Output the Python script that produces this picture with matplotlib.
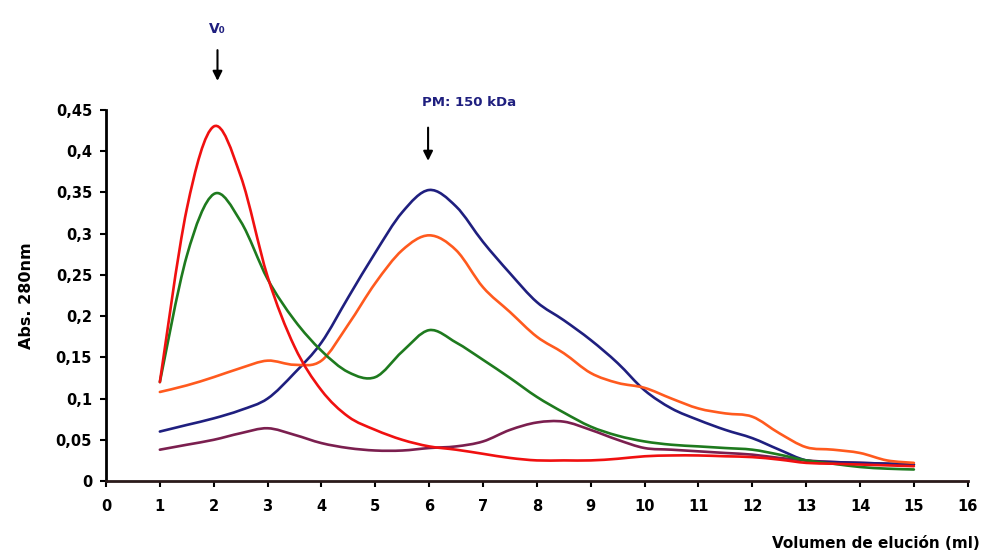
import matplotlib
matplotlib.use("Agg")
from matplotlib import pyplot as plt
from matplotlib.path import Path
from matplotlib.patches import PathPatch
from matplotlib.ticker import FuncFormatter, MultipleLocator

# elution volume (ml), sampled every 0.5 ml
vol = [1, 1.5, 2, 2.5, 3, 3.5, 4, 4.5, 5, 5.5, 6, 6.5, 7, 7.5, 8,
       8.5, 9, 9.5, 10, 10.5, 11, 11.5, 12, 12.5, 13, 13.5, 14, 14.5, 15]

red = [0.120, 0.330, 0.430, 0.370, 0.248, 0.163, 0.110, 0.078, 0.062, 0.050, 0.042,
       0.038, 0.033, 0.028, 0.025, 0.025, 0.025, 0.027, 0.030, 0.031, 0.031, 0.030,
       0.029, 0.026, 0.022, 0.021, 0.020, 0.019, 0.018]
green = [0.120, 0.273, 0.348, 0.315, 0.245, 0.195, 0.158, 0.132, 0.126, 0.157, 0.183,
         0.168, 0.147, 0.125, 0.102, 0.083, 0.066, 0.055, 0.048, 0.044, 0.042, 0.040,
         0.038, 0.032, 0.025, 0.021, 0.017, 0.015, 0.014]
blue = [0.060, 0.068, 0.076, 0.086, 0.100, 0.131, 0.168, 0.223, 0.277, 0.326, 0.353,
        0.333, 0.290, 0.252, 0.217, 0.195, 0.171, 0.143, 0.110, 0.088, 0.074, 0.062,
        0.052, 0.038, 0.025, 0.023, 0.022, 0.021, 0.020]
orange = [0.108, 0.116, 0.126, 0.137, 0.146, 0.141, 0.146, 0.190, 0.240, 0.280, 0.298,
          0.280, 0.235, 0.205, 0.175, 0.155, 0.131, 0.119, 0.113, 0.100, 0.088, 0.082,
          0.078, 0.058, 0.041, 0.038, 0.034, 0.025, 0.022]
purple = [0.038, 0.044, 0.050, 0.058, 0.064, 0.056, 0.046, 0.040, 0.037, 0.037, 0.040,
          0.042, 0.048, 0.062, 0.071, 0.072, 0.062, 0.050, 0.040, 0.038, 0.036, 0.034,
          0.032, 0.028, 0.025, 0.023, 0.022, 0.021, 0.020]

series = [
    (purple, '#7b1f4f'),
    (blue, '#1f1f7f'),
    (orange, '#ff5a1e'),
    (green, '#1e7a1e'),
    (red, '#f01010'),
]


def smooth_path(xs, ys):
    # Excel-style smoothed line: Catmull-Rom segments as cubic Bezier curves
    pts = list(zip(xs, ys))
    verts = [pts[0]]
    codes = [Path.MOVETO]
    n = len(pts)
    for i in range(n - 1):
        p0 = pts[max(i - 1, 0)]
        p1 = pts[i]
        p2 = pts[i + 1]
        p3 = pts[min(i + 2, n - 1)]
        c1 = (p1[0] + (p2[0] - p0[0]) / 6, p1[1] + (p2[1] - p0[1]) / 6)
        c2 = (p2[0] - (p3[0] - p1[0]) / 6, p2[1] - (p3[1] - p1[1]) / 6)
        verts += [c1, c2, p2]
        codes += [Path.CURVE4] * 3
    return Path(verts, codes)


fig = plt.figure(figsize=(9.86, 5.59), dpi=100)
ax = fig.add_axes([0.1075, 0.1395, 0.874, 0.6637])

for vals, col in series:
    ax.add_patch(PathPatch(smooth_path(vol, vals), facecolor='none', edgecolor=col,
                           linewidth=1.9, joinstyle='round', capstyle='round'))

ax.set_xlim(0, 16)
ax.set_ylim(0, 0.45)
ax.xaxis.set_major_locator(MultipleLocator(1))
ax.yaxis.set_major_locator(MultipleLocator(0.05))
ax.yaxis.set_major_formatter(FuncFormatter(lambda v, p: ('%g' % round(v, 2)).replace('.', ',')))

for s in ['top', 'right']:
    ax.spines[s].set_visible(False)
ax.spines['left'].set_linewidth(2)
ax.spines['bottom'].set_linewidth(2)
ax.spines['bottom'].set_color('#2a1a1a')
ax.tick_params(axis='both', direction='out', length=4, width=1.5, labelsize=10.5, pad=6)
for lab in ax.get_xticklabels() + ax.get_yticklabels():
    lab.set_fontweight('bold')
ax.tick_params(axis='x', pad=9)

ax.set_ylabel('Abs. 280nm', fontsize=11.5, fontweight='bold', labelpad=16)
fig.text(0.994, 0.015, 'Volumen de elución (ml)', fontsize=11, fontweight='bold',
         ha='right', va='bottom')

# markers for V0 and the 150 kDa standard
ax.annotate('', xy=(2.07, 0.482), xytext=(2.07, 0.526), annotation_clip=False,
            arrowprops=dict(arrowstyle='-|>', color='black', lw=1.5, mutation_scale=14))
ax.text(2.07, 0.54, 'V₀', color='#1f1f7f', fontsize=10, fontweight='bold',
        ha='center', va='bottom', clip_on=False)
ax.annotate('', xy=(5.98, 0.385), xytext=(5.98, 0.432), annotation_clip=False,
            arrowprops=dict(arrowstyle='-|>', color='black', lw=1.5, mutation_scale=14))
ax.text(6.75, 0.459, 'PM: 150 kDa', color='#1f1f7f', fontsize=9.5, fontweight='bold',
        ha='center', va='center', clip_on=False)

fig.savefig('out.png', dpi=100)
